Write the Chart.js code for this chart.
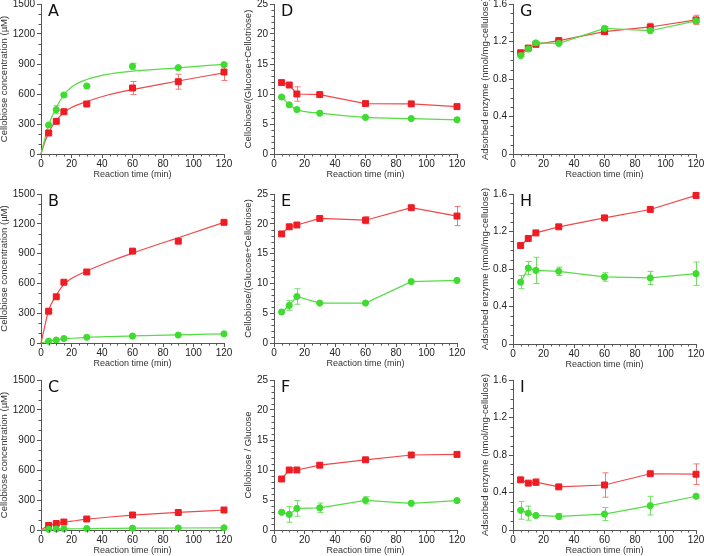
<!DOCTYPE html>
<html><head><meta charset="utf-8">
<script src="https://cdn.jsdelivr.net/npm/chart.js@4/dist/chart.umd.min.js"></script>
<style>
html,body{margin:0;padding:0;background:#fff;overflow:hidden;width:704px;height:556px;position:relative}
canvas{position:absolute}
.lbl{position:absolute;font-family:'DejaVu Sans',sans-serif;font-size:16px;line-height:16px;color:#111}
</style></head><body>
<script>
// ---------- data ----------
const times = [5, 10, 15, 30, 60, 90, 120];
const fitTimes = [0, 2.5, 5, 10, 15, 20, 30, 45, 60, 90, 120];

// Panel A – cellobiose concentration (µM)
const aRed = [210, 327, 423, 500, 660, 723, 820];
const aRedErr = [12, 15, 12, 12, 65, 75, 85];
const aGreen = [290, 443, 590, 680, 877, 863, 893];
const aGreenErr = [10, 40, 12, 8, 30, 10, 10];
const aRedFit = [0, 120, 215, 335, 415, 465, 525, 595, 645, 730, 812];
const aGreenFit = [0, 150, 290, 465, 590, 670, 745, 800, 828, 862, 897];

// Panel B
const bRed = [320, 465, 612, 715, 925, 1025, 1215];
const bRedErr = [10, 10, 15, 10, 12, 20, 12];
const bGreen = [18, 30, 45, 58, 70, 80, 92];
const bGreenErr = [0, 0, 0, 0, 0, 0, 0];
const bRedFit = [0, 170, 330, 480, 590, 650, 725, 820, 905, 1060, 1215];
const bGreenFit = [0, 10, 20, 32, 42, 48, 57, 65, 71, 82, 92];

// Panel C
const cRed = [45, 65, 80, 110, 150, 175, 200];
const cRedErr = [0, 0, 0, 0, 0, 0, 0];
const cGreen = [8, 10, 12, 15, 18, 20, 22];
const cGreenErr = [0, 0, 0, 0, 0, 0, 0];
const cRedFit = [0, 25, 45, 63, 78, 88, 108, 130, 148, 176, 200];
const cGreenFit = [0, 4, 7, 9, 11, 12, 14, 16, 18, 20, 22];

// Panel D – Cellobiose/(Glucose+Cellotriose)
const dRed = [11.9, 11.5, 10.0, 9.9, 8.4, 8.35, 7.9];
const dRedErr = [0, 0, 1.2, 0, 0, 0, 0];
const dGreen = [9.5, 8.2, 7.4, 6.8, 6.1, 5.9, 5.7];
const dGreenErr = [0, 0, 0, 0, 0, 0, 0];

// Panel E
const eRed = [18.3, 19.5, 19.8, 20.9, 20.6, 22.7, 21.3];
const eRedErr = [0, 0, 0, 0, 0.6, 0.2, 1.6];
const eGreen = [5.2, 6.3, 7.8, 6.7, 6.7, 10.3, 10.5];
const eGreenErr = [0, 0.8, 1.3, 0, 0, 0, 0];

// Panel F – Cellobiose / Glucose
const fRed = [8.5, 10.0, 10.0, 10.8, 11.7, 12.5, 12.6];
const fRedErr = [0, 0, 0, 0, 0, 0, 0];
const fGreen = [2.95, 2.6, 3.6, 3.7, 4.95, 4.45, 4.9];
const fGreenErr = [0, 1.3, 1.3, 0.8, 0.6, 0, 0];

// Panel G – Adsorbed enzyme (nmol/mg-cellulose)
const gRed = [1.08, 1.13, 1.17, 1.21, 1.305, 1.355, 1.43];
const gRedErr = [0.02, 0.02, 0.02, 0.02, 0.03, 0.04, 0.05];
const gGreen = [1.05, 1.12, 1.185, 1.18, 1.34, 1.315, 1.42];
const gGreenErr = [0.01, 0.01, 0.01, 0.01, 0.02, 0.01, 0.03];

// Panel H
const hRed = [1.05, 1.125, 1.185, 1.25, 1.345, 1.435, 1.585];
const hRedErr = [0, 0, 0, 0, 0, 0, 0.03];
const hGreen = [0.66, 0.81, 0.785, 0.775, 0.715, 0.705, 0.75];
const hGreenErr = [0.07, 0.07, 0.14, 0.045, 0.045, 0.07, 0.125];

// Panel I
const iRed = [0.535, 0.5, 0.51, 0.46, 0.48, 0.6, 0.595];
const iRedErr = [0.02, 0.01, 0.035, 0.01, 0.13, 0.01, 0.11];
const iGreen = [0.21, 0.18, 0.155, 0.145, 0.17, 0.26, 0.36];
const iGreenErr = [0.095, 0.075, 0.01, 0.03, 0.07, 0.1, 0.02];

const xTitle = 'Reaction time (min)';
const yTitles = {
  conc: 'Cellobiose concentration (µM)',
  ratioGC: 'Cellobiose/(Glucose+Cellotriose)',
  ratioG: 'Cellobiose / Glucose',
  ads: 'Adsorbed enzyme (nmol/mg-cellulose)'
};

// ---------- styles ----------
const RED = '#ee1c24', GREEN = '#3ddc2e';
const RED_LINE = '#f04848', GREEN_LINE = '#55dd44';
const RED_ERR = '#f27a7a', GREEN_ERR = '#6fe060';
const AXIS = '#555';
const FONT = "'Liberation Sans', Arial, sans-serif";

const errorBars = {
  id: 'errorBars',
  beforeDatasetsDraw(chart) {
    const ctx = chart.ctx, ys = chart.scales.y;
    chart.data.datasets.forEach((ds, i) => {
      if (!ds.errors) return;
      const meta = chart.getDatasetMeta(i);
      ctx.save();
      ctx.strokeStyle = ds.errorColor;
      ctx.lineWidth = 1;
      meta.data.forEach((pt, j) => {
        const e = ds.errors[j];
        if (!e) return;
        const v = ds.data[j].y;
        const y1 = ys.getPixelForValue(v + e), y2 = ys.getPixelForValue(v - e);
        const x = Math.round(pt.x) + 0.5;
        ctx.beginPath();
        ctx.moveTo(x, y1); ctx.lineTo(x, y2);
        ctx.moveTo(x - 3, y1); ctx.lineTo(x + 3, y1);
        ctx.moveTo(x - 3, y2); ctx.lineTo(x + 3, y2);
        ctx.stroke();
      });
      ctx.restore();
    });
  }
};

const minorTicks = {
  id: 'minorTicks',
  afterDraw(chart, args, opts) {
    const ctx = chart.ctx, xs = chart.scales.x, ys = chart.scales.y, ca = chart.chartArea;
    ctx.save();
    ctx.strokeStyle = AXIS; ctx.lineWidth = 1;
    ctx.beginPath();
    const eps = 1e-9;
    for (let k = 0; ; k++) {
      const v = xs.min + k * opts.x;
      if (v > xs.max + eps) break;
      const r = v / opts.xMajor;
      if (Math.abs(r - Math.round(r)) < 1e-6) continue;
      const px = Math.round(xs.getPixelForValue(v)) + 0.5;
      ctx.moveTo(px, ca.bottom); ctx.lineTo(px, ca.bottom + 2.5);
    }
    for (let k = 0; ; k++) {
      const v = ys.min + k * opts.y;
      if (v > ys.max + eps) break;
      const r = v / opts.yMajor;
      if (Math.abs(r - Math.round(r)) < 1e-6) continue;
      const py = Math.round(ys.getPixelForValue(v)) + 0.5;
      ctx.moveTo(ca.left - 2.5, py); ctx.lineTo(ca.left, py);
    }
    ctx.stroke();
    ctx.restore();
  }
};

const pts = (xs, ys) => xs.map((x, i) => ({x, y: ys[i]}));

function pointSet(vals, errs, red, connect, smooth) {
  return {
    data: pts(times, vals),
    errors: errs,
    errorColor: red ? RED_ERR : GREEN_ERR,
    showLine: connect,
    borderColor: red ? RED_LINE : GREEN_LINE,
    borderWidth: 1.2,
    cubicInterpolationMode: smooth ? 'monotone' : 'default',
    pointStyle: red ? 'rect' : 'circle',
    pointRadius: red ? 4.2 : 3.1,
    pointBackgroundColor: red ? RED : GREEN,
    pointBorderColor: red ? RED : GREEN,
    pointBorderWidth: 1,
    clip: false
  };
}
function fitSet(vals, red) {
  return {
    data: pts(fitTimes, vals),
    showLine: true,
    borderColor: red ? RED_LINE : GREEN_LINE,
    borderWidth: 1.2,
    cubicInterpolationMode: 'monotone',
    pointRadius: 0,
    clip: false
  };
}

function makePanel(p) {
  const padL = 42, padT = 8, padR = 12, xH = 34;
  const cv = document.createElement('canvas');
  const w = p.R - p.L + padL + padR, h = p.B - p.T + padT + xH;
  cv.width = w; cv.height = h;
  cv.style.left = (p.L - padL) + 'px';
  cv.style.top = (p.T - padT) + 'px';
  cv.style.width = w + 'px'; cv.style.height = h + 'px';
  document.body.appendChild(cv);

  const lab = document.createElement('div');
  lab.className = 'lbl';
  lab.textContent = p.letter;
  lab.style.left = (p.L + 7) + 'px';
  lab.style.top = (p.T - 1) + 'px';
  document.body.appendChild(lab);

  const datasets = [
    pointSet(p.green, p.greenErr, false, p.connect, p.smoothGreen),
    pointSet(p.red, p.redErr, true, p.connect, false)
  ];
  if (p.greenFit) datasets.push(fitSet(p.greenFit, false));
  if (p.redFit) datasets.push(fitSet(p.redFit, true));

  new Chart(cv, {
    type: 'line',
    data: { datasets },
    plugins: [errorBars, minorTicks],
    options: {
      responsive: false,
      animation: false,
      devicePixelRatio: 1,
      layout: { padding: { left: 0, top: padT, right: padR, bottom: 0 } },
      plugins: {
        legend: { display: false },
        tooltip: { enabled: false },
        minorTicks: { x: 5, xMajor: 20, y: p.yMinor, yMajor: p.yStep }
      },
      scales: {
        x: {
          type: 'linear', min: 0, max: 120,
          afterFit: s => { s.height = xH; },
          grid: { drawOnChartArea: false, drawTicks: true, tickLength: 4, color: AXIS },
          border: { display: true, color: AXIS, width: 1 },
          ticks: { stepSize: 20, padding: 0, color: '#222', font: { family: FONT, size: 10 }, maxRotation: 0 },
          title: { display: true, text: xTitle, color: '#333', font: { family: FONT, size: 9 }, padding: { top: 0, bottom: 7.6 } }
        },
        y: {
          type: 'linear', min: 0, max: p.yMax,
          afterFit: s => { s.width = padL; },
          grid: { drawOnChartArea: false, drawTicks: true, tickLength: 4, color: AXIS },
          border: { display: true, color: AXIS, width: 1 },
          ticks: { stepSize: p.yStep, padding: 2, color: '#222', font: { family: FONT, size: 10 },
                   callback: v => String(Math.round(v * 100) / 100) },
          title: { display: true, text: p.yTitle, color: '#333', font: { family: FONT, size: 9.5 }, padding: { top: p.yTitlePad, bottom: 0 } }
        }
      }
    }
  });
}

const panels = [
  { letter: 'A', L: 41, T: 4, R: 224, B: 154, yMax: 1500, yStep: 300, yMinor: 100, yTitle: yTitles.conc, yTitlePad: 0,
    red: aRed, redErr: aRedErr, green: aGreen, greenErr: aGreenErr, redFit: aRedFit, greenFit: aGreenFit, connect: false },
  { letter: 'B', L: 41, T: 194, R: 224, B: 343, yMax: 1500, yStep: 300, yMinor: 100, yTitle: yTitles.conc, yTitlePad: 0,
    red: bRed, redErr: bRedErr, green: bGreen, greenErr: bGreenErr, redFit: bRedFit, greenFit: bGreenFit, connect: false },
  { letter: 'C', L: 41, T: 380, R: 224, B: 530, yMax: 1500, yStep: 300, yMinor: 100, yTitle: yTitles.conc, yTitlePad: 0,
    red: cRed, redErr: cRedErr, green: cGreen, greenErr: cGreenErr, redFit: cRedFit, greenFit: cGreenFit, connect: false },
  { letter: 'D', L: 274, T: 4, R: 457, B: 154, yMax: 25, yStep: 5, yMinor: 1, yTitle: yTitles.ratioGC, yTitlePad: 10.5,
    red: dRed, redErr: dRedErr, green: dGreen, greenErr: dGreenErr, connect: true, smoothGreen: true },
  { letter: 'E', L: 274, T: 194, R: 457, B: 343, yMax: 25, yStep: 5, yMinor: 1, yTitle: yTitles.ratioGC, yTitlePad: 10.5,
    red: eRed, redErr: eRedErr, green: eGreen, greenErr: eGreenErr, connect: true },
  { letter: 'F', L: 274, T: 380, R: 457, B: 530, yMax: 25, yStep: 5, yMinor: 1, yTitle: yTitles.ratioG, yTitlePad: 10.5,
    red: fRed, redErr: fRedErr, green: fGreen, greenErr: fGreenErr, connect: true },
  { letter: 'G', L: 513, T: 4, R: 696, B: 154, yMax: 1.6, yStep: 0.4, yMinor: 0.1, yTitle: yTitles.ads, yTitlePad: 8.3,
    red: gRed, redErr: gRedErr, green: gGreen, greenErr: gGreenErr, connect: true },
  { letter: 'H', L: 513, T: 194, R: 696, B: 344, yMax: 1.6, yStep: 0.4, yMinor: 0.1, yTitle: yTitles.ads, yTitlePad: 8.3,
    red: hRed, redErr: hRedErr, green: hGreen, greenErr: hGreenErr, connect: true },
  { letter: 'I', L: 513, T: 380, R: 696, B: 530, yMax: 1.6, yStep: 0.4, yMinor: 0.1, yTitle: yTitles.ads, yTitlePad: 8.3,
    red: iRed, redErr: iRedErr, green: iGreen, greenErr: iGreenErr, connect: true }
];
panels.forEach(makePanel);
</script>
</body></html>
